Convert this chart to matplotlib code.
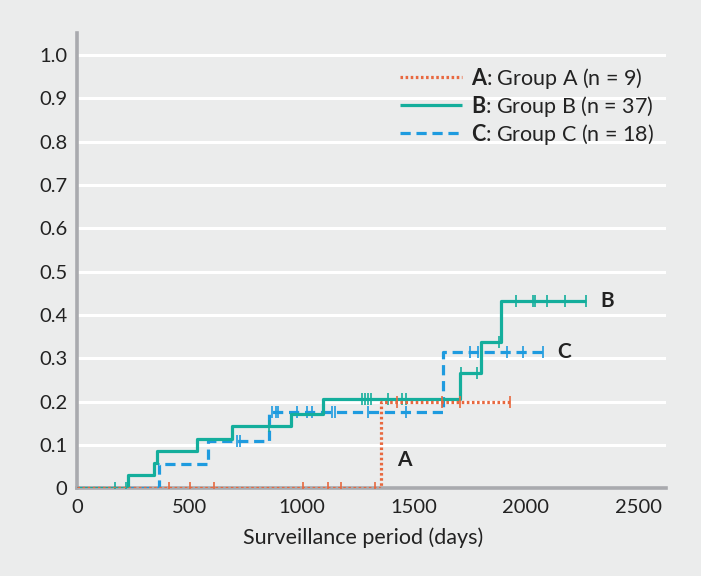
import numpy as np
import matplotlib
matplotlib.use("Agg")
import matplotlib.pyplot as plt

plt.rcParams['font.family'] = ['Lato', 'DejaVu Sans']
plt.rcParams['mathtext.fontset'] = 'custom'
plt.rcParams['mathtext.rm'] = 'Lato'
plt.rcParams['mathtext.bf'] = 'Lato:bold'

# ---- data (days, cumulative incidence) ----
a_times = [0, 1353]
a_vals = [0.0, 0.2]
a_end = 1936
a_censor = [411, 503, 610, 1005, 1117, 1175, 1327, 1424, 1627, 1706, 1929]

b_times = [0, 227, 343, 358, 533, 692, 952, 1094, 1706, 1798, 1889]
b_vals = [0.0, 0.03, 0.058, 0.085, 0.114, 0.143, 0.172, 0.205, 0.265, 0.338, 0.433]
b_end = 2270
b_censor = [171, 220, 857, 1271, 1283, 1295, 1308, 1387, 1446, 1464, 1713, 1783,
            1881, 1955, 2032, 2039, 2095, 2174, 2270]

c_times = [0, 367, 585, 857, 1629]
c_vals = [0.0, 0.056, 0.110, 0.175, 0.315]
c_end = 2077
c_censor = [711, 726, 867, 886, 897, 979, 1023, 1048, 1137, 1149, 1297, 1468,
            1750, 1788, 1914, 1988, 2077]

labels = [r'$\mathbf{A}$: Group A (n = 9)',
          r'$\mathbf{B}$: Group B (n = 37)',
          r'$\mathbf{C}$: Group C (n = 18)']
x_ticks = [0, 500, 1000, 1500, 2000, 2500]
y_ticks = [0, 0.1, 0.2, 0.3, 0.4, 0.5, 0.6, 0.7, 0.8, 0.9, 1.0]

ORANGE = '#E8683F'
TEAL = '#14AE9C'
BLUE = '#1E9BDF'
BG = '#EBECEC'
SPINE = '#A9AAAE'
TXT = '#222222'

fig = plt.figure(figsize=(7.01, 5.76), dpi=100, facecolor=BG)
ax = fig.add_axes([0.1098, 0.1523, 0.8402, 0.7905])
ax.set_facecolor(BG)

for yv in y_ticks[1:]:
    ax.axhline(yv, color='white', lw=2.2, zorder=1)


def draw(times, vals, end, censor, color, ls, label, z):
    t = list(times) + [end]
    v = list(vals) + [vals[-1]]
    line, = ax.step(t, v, where='post', color=color, lw=2.3, ls=ls,
                    label=label, zorder=z, solid_capstyle='butt')
    idx = np.searchsorted(np.array(times), np.array(censor), side='right') - 1
    cy = np.array(vals)[idx]
    ax.plot(censor, cy, ls='none', marker='|', ms=9, mew=1.2, color=color, zorder=z)
    return line


lc = draw(c_times, c_vals, c_end, c_censor, BLUE, (0, (3.2, 1.8)), labels[2], 3)
lb = draw(b_times, b_vals, b_end, b_censor, TEAL, '-', labels[1], 4)
la = draw(a_times, a_vals, a_end, a_censor, ORANGE, (0, (0.8, 0.8)), labels[0], 5)

ax.text(2330, b_vals[-1], 'B', fontsize=15, fontweight='bold', va='center', ha='left', color=TXT)
ax.text(2140, c_vals[-1], 'C', fontsize=15, fontweight='bold', va='center', ha='left', color=TXT)
ax.text(1425, 0.065, 'A', fontsize=15, fontweight='bold', va='center', ha='left', color=TXT)

ax.set_xlim(0, 2624)
ax.set_ylim(0, 1.051)
ax.set_xticks(x_ticks)
ax.set_yticks(y_ticks)
ax.set_yticklabels(['0' if v == 0 else f'{v:.1f}' for v in y_ticks])
ax.tick_params(length=0, labelsize=14.5, colors=TXT, pad=7)
ax.tick_params(axis='x', pad=8)
ax.set_xlabel('Surveillance period (days)', fontsize=15.5, color=TXT, labelpad=7)
ax.xaxis.set_label_coords(0.486, -0.0)
ax.xaxis.label.set_va('top')
ax.xaxis.set_label_coords(0.486, -0.085)

for s in ['top', 'right']:
    ax.spines[s].set_visible(False)
for s in ['left', 'bottom']:
    ax.spines[s].set_color(SPINE)
    ax.spines[s].set_linewidth(2.6)
    ax.spines[s].set_zorder(2)

leg = ax.legend(handles=[la, lb, lc], loc='upper right', bbox_to_anchor=(1.013, 0.971),
                frameon=False, fontsize=15.5, handlelength=2.9, handletextpad=0.4,
                labelspacing=0.15, labelcolor=TXT)

fig.savefig('out.png', dpi=100, facecolor=BG)
